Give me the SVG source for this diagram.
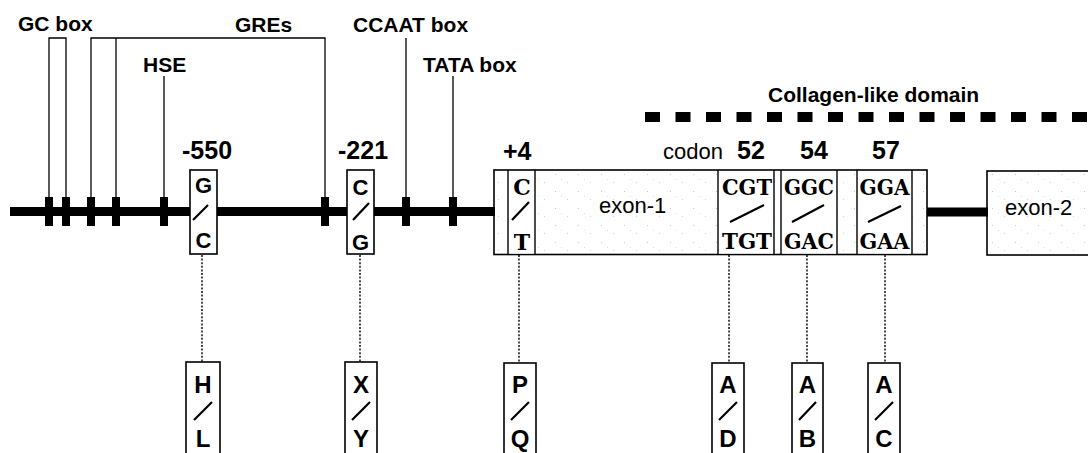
<svg xmlns="http://www.w3.org/2000/svg" width="1088" height="453" viewBox="0 0 1088 453">
<defs>
<pattern id="stip" width="23" height="17" patternUnits="userSpaceOnUse">
<rect x="3" y="4" width="1" height="1" fill="#c8c8c8"/>
<rect x="15" y="12" width="1" height="1" fill="#d0d0d0"/>
<rect x="9" y="9" width="1" height="1" fill="#dcdcdc"/>
</pattern>
<style>
.lbl{font-family:"Liberation Sans",Arial,sans-serif;font-weight:bold;font-size:21px;fill:#000}
.num{font-family:"Liberation Sans",Arial,sans-serif;font-weight:bold;font-size:25px;fill:#000}
.reg{font-family:"Liberation Sans",Arial,sans-serif;font-size:22px;fill:#000}
.nt{font-family:"Liberation Sans",Arial,sans-serif;font-weight:bold;font-size:22px;fill:#000;text-anchor:middle}
.aa{font-family:"Liberation Sans",Arial,sans-serif;font-weight:bold;font-size:24px;fill:#000;text-anchor:middle}
.cod{font-family:"DejaVu Serif",serif;font-weight:bold;font-size:22px;fill:#000;text-anchor:middle}
.box{fill:#fff;stroke:#000;stroke-width:1.6}
.ex{fill:url(#stip);stroke:#000;stroke-width:1.6}
.div{stroke:#000;stroke-width:1.4}
.thin{stroke:#000;stroke-width:1.3;fill:none}
.dot{stroke:#000;stroke-width:1.4;stroke-dasharray:2 1.6;fill:none}
.sl{stroke:#000;stroke-width:2.2}
.tick{fill:#000}
</style>
</defs>
<rect width="1088" height="453" fill="#fff"/>

<g id="connectors">
<polyline class="thin" points="49,197 49,38 66,38 66,197"/>
<polyline class="thin" points="91,197 91,38 325,38 325,197"/>
<line class="thin" x1="116" y1="38" x2="116" y2="197"/>
<line class="thin" x1="164" y1="76" x2="164" y2="197"/>
<line class="thin" x1="406" y1="38" x2="406" y2="197"/>
<line class="thin" x1="453" y1="76" x2="453" y2="197"/>
<line class="dot" x1="202" y1="255" x2="202" y2="362"/>
<line class="dot" x1="360" y1="255" x2="360" y2="362"/>
<line class="dot" x1="519" y1="255" x2="519" y2="362"/>
<line class="dot" x1="729" y1="255" x2="729" y2="363"/>
<line class="dot" x1="807" y1="255" x2="807" y2="363"/>
<line class="dot" x1="885" y1="255" x2="885" y2="363"/>
</g>

<g id="gene-line">
<rect x="10" y="207" width="485" height="9" fill="#000"/>
<rect x="927" y="207.5" width="61" height="9" fill="#000"/>
</g>

<g id="ticks">
<rect class="tick" x="45" y="197" width="8" height="29"/>
<rect class="tick" x="62" y="197" width="8" height="29"/>
<rect class="tick" x="87" y="197" width="8" height="29"/>
<rect class="tick" x="112" y="197" width="8" height="29"/>
<rect class="tick" x="160" y="197" width="8" height="29"/>
<rect class="tick" x="321" y="197" width="8" height="29"/>
<rect class="tick" x="402" y="197" width="8" height="29"/>
<rect class="tick" x="449" y="197" width="8" height="29"/>
</g>

<g id="labels">
<text class="lbl" x="18" y="31">GC box</text>
<text class="lbl" x="235" y="32">GREs</text>
<text class="lbl" x="143" y="72">HSE</text>
<text class="lbl" x="353" y="32">CCAAT box</text>
<text class="lbl" x="423" y="72">TATA box</text>
<text class="lbl" x="768" y="102">Collagen-like domain</text>
</g>

<g id="collagen-domain">
<line x1="645" y1="117" x2="1088" y2="117" stroke="#000" stroke-width="10" stroke-dasharray="15 15.5"/>
</g>

<g id="site-550">
<text class="num" x="182" y="159">-550</text>
<rect class="box" x="190" y="170" width="27" height="84"/>
<text class="nt" x="203.5" y="193">G</text>
<line class="sl" x1="193" y1="220" x2="208" y2="205"/>
<text class="nt" x="203.5" y="248">C</text>
</g>

<g id="site-221">
<text class="num" x="338" y="159">-221</text>
<rect class="box" x="347" y="170" width="27" height="84"/>
<text class="nt" x="360.5" y="195">C</text>
<line class="sl" x1="353" y1="220" x2="369" y2="203"/>
<text class="nt" x="360.5" y="250">G</text>
</g>

<g id="exon-1">
<rect class="ex" x="494" y="170" width="433" height="84.5"/>
<line class="div" x1="508" y1="170" x2="508" y2="254.5"/>
<line class="div" x1="535" y1="170" x2="535" y2="254.5"/>
<line class="div" x1="718" y1="170" x2="718" y2="254.5"/>
<line class="div" x1="774" y1="170" x2="774" y2="254.5"/>
<line class="div" x1="781" y1="170" x2="781" y2="254.5"/>
<line class="div" x1="837" y1="170" x2="837" y2="254.5"/>
<line class="div" x1="857" y1="170" x2="857" y2="254.5"/>
<line class="div" x1="912" y1="170" x2="912" y2="254.5"/>
<rect x="509" y="171" width="25" height="82.5" fill="#fff"/>
<rect x="719" y="171" width="54" height="82.5" fill="#fff"/>
<rect x="782" y="171" width="54" height="82.5" fill="#fff"/>
<rect x="858" y="171" width="53" height="82.5" fill="#fff"/>
<text class="reg" x="599" y="213">exon-1</text>
</g>

<g id="site-plus4">
<text class="num" x="503" y="160">+4</text>
<text class="cod" x="522" y="195">C</text>
<line class="sl" x1="512" y1="220" x2="529" y2="202"/>
<text class="cod" x="522" y="250">T</text>
</g>

<g id="codon-labels">
<text class="reg" x="663" y="159">codon</text>
<text class="num" x="737" y="159">52</text>
<text class="num" x="800" y="159">54</text>
<text class="num" x="872" y="159">57</text>
</g>

<g id="codon-52">
<text class="cod" x="747" y="195" textLength="50" lengthAdjust="spacingAndGlyphs">CGT</text>
<line class="sl" x1="730" y1="222" x2="764" y2="205"/>
<text class="cod" x="747" y="249" textLength="50" lengthAdjust="spacingAndGlyphs">TGT</text>
</g>

<g id="codon-54">
<text class="cod" x="809" y="195" textLength="50" lengthAdjust="spacingAndGlyphs">GGC</text>
<line class="sl" x1="792" y1="222" x2="824" y2="205"/>
<text class="cod" x="809" y="249" textLength="50" lengthAdjust="spacingAndGlyphs">GAC</text>
</g>

<g id="codon-57">
<text class="cod" x="884.5" y="195" textLength="50" lengthAdjust="spacingAndGlyphs">GGA</text>
<line class="sl" x1="868" y1="222" x2="901" y2="206"/>
<text class="cod" x="884.5" y="249" textLength="50" lengthAdjust="spacingAndGlyphs">GAA</text>
</g>

<g id="exon-2">
<rect class="ex" x="987" y="171" width="110" height="84"/>
<text class="reg" x="1005" y="215">exon-2</text>
</g>

<g id="aa-HL">
<rect class="box" x="186" y="362" width="34" height="110"/>
<text class="aa" x="203" y="393">H</text>
<line class="sl" x1="194" y1="420" x2="212" y2="402"/>
<text class="aa" x="203" y="447">L</text>
</g>

<g id="aa-XY">
<rect class="box" x="345" y="362" width="32" height="110"/>
<text class="aa" x="361" y="393">X</text>
<line class="sl" x1="352" y1="420" x2="370" y2="402"/>
<text class="aa" x="361" y="447">Y</text>
</g>

<g id="aa-PQ">
<rect class="box" x="504" y="363" width="32" height="110"/>
<text class="aa" x="520" y="393">P</text>
<line class="sl" x1="511" y1="420" x2="529" y2="402"/>
<text class="aa" x="520" y="447">Q</text>
</g>

<g id="aa-AD">
<rect class="box" x="712" y="363" width="32" height="110"/>
<text class="aa" x="728" y="393">A</text>
<line class="sl" x1="719" y1="420" x2="737" y2="402"/>
<text class="aa" x="728" y="447">D</text>
</g>

<g id="aa-AB">
<rect class="box" x="792" y="363" width="31" height="110"/>
<text class="aa" x="807.5" y="393">A</text>
<line class="sl" x1="799" y1="420" x2="816" y2="402"/>
<text class="aa" x="807.5" y="447">B</text>
</g>

<g id="aa-AC">
<rect class="box" x="868" y="363" width="32" height="110"/>
<text class="aa" x="884" y="393">A</text>
<line class="sl" x1="875" y1="420" x2="893" y2="402"/>
<text class="aa" x="884" y="447">C</text>
</g>
</svg>
